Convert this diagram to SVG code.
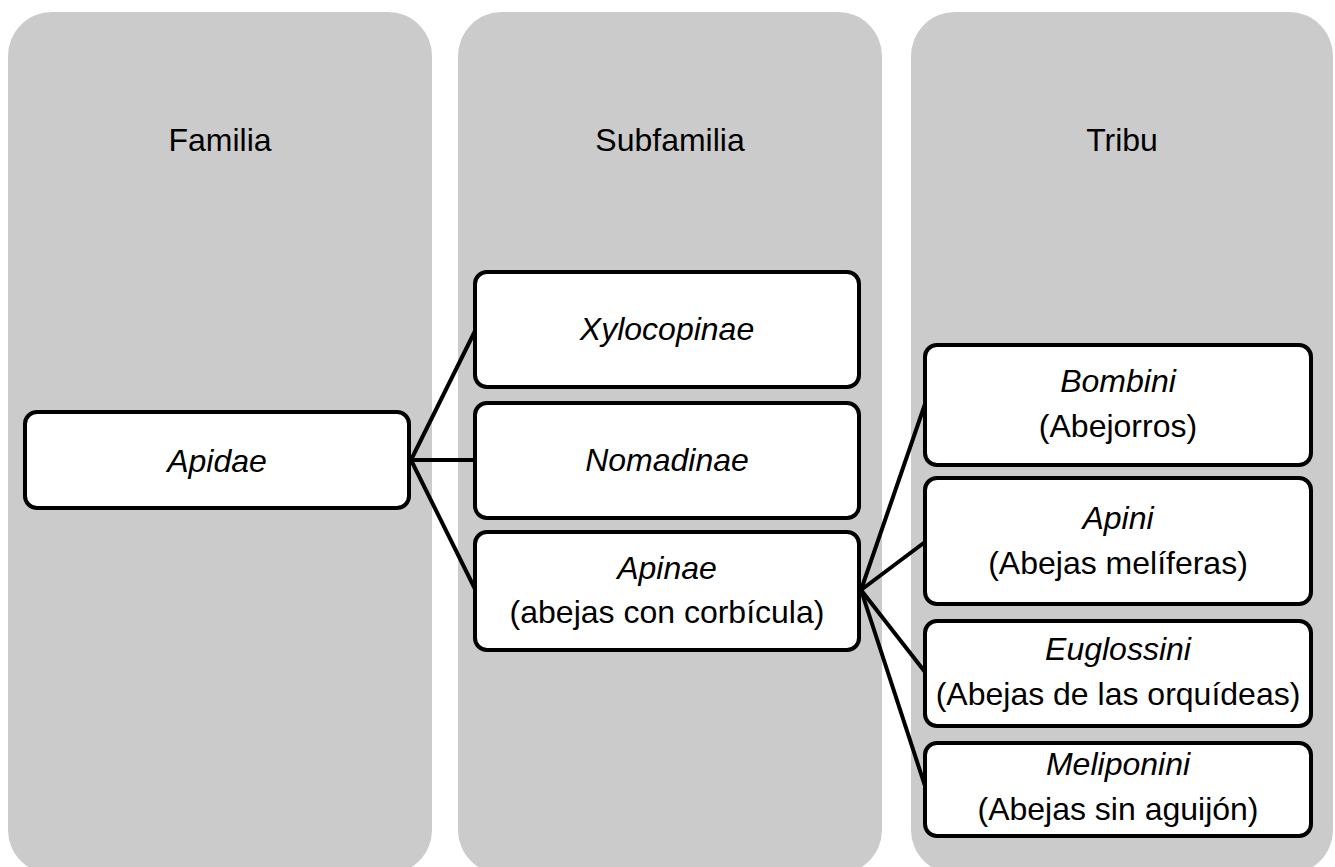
<svg xmlns="http://www.w3.org/2000/svg" width="1335" height="867" viewBox="0 0 1335 867">
<style>
.col{fill:#cbcbcb;stroke:none}
.box{fill:#fff;stroke:#000;stroke-width:4}
.t{font-family:"Liberation Sans",Arial,sans-serif;font-size:32px;fill:#000;text-anchor:middle}
.i{font-style:italic}
.c{stroke:#000;stroke-width:4;fill:none;stroke-linecap:round}
</style>
<rect width="1335" height="867" fill="#fff"/>
<g id="columns">
<g id="col-familia"><rect class="col" x="8" y="12" width="424" height="862" rx="44"/><text class="t" x="220" y="151">Familia</text></g>
<g id="col-subfamilia"><rect class="col" x="458" y="12" width="424" height="862" rx="44"/><text class="t" x="670" y="151">Subfamilia</text></g>
<g id="col-tribu"><rect class="col" x="911" y="12" width="422" height="862" rx="44"/><text class="t" x="1122" y="151">Tribu</text></g>
</g>
<g id="connectors">
<line class="c" x1="411" y1="460" x2="475" y2="331"/>
<line class="c" x1="411" y1="460" x2="475" y2="460"/>
<line class="c" x1="411" y1="460" x2="475" y2="589"/>
<line class="c" x1="861" y1="590" x2="925" y2="404"/>
<line class="c" x1="861" y1="590" x2="925" y2="542"/>
<line class="c" x1="861" y1="590" x2="925" y2="672"/>
<line class="c" x1="861" y1="590" x2="925" y2="786"/>
</g>
<g id="apidae"><rect class="box" x="25" y="412" width="384" height="96" rx="12"/><text class="t i" x="217" y="472">Apidae</text></g>
<g id="xylocopinae"><rect class="box" x="475" y="272" width="384" height="115" rx="12"/><text class="t i" x="667" y="340">Xylocopinae</text></g>
<g id="nomadinae"><rect class="box" x="475" y="403" width="384" height="115" rx="12"/><text class="t i" x="667" y="471">Nomadinae</text></g>
<g id="apinae"><rect class="box" x="475" y="532" width="384" height="118" rx="12"/><text class="t" x="667" y="579"><tspan class="i">Apinae</tspan><tspan x="667" dy="44">(abejas con corbícula)</tspan></text></g>
<g id="bombini"><rect class="box" x="925" y="345" width="386" height="120" rx="12"/><text class="t" x="1118" y="392"><tspan class="i">Bombini</tspan><tspan x="1118" dy="45">(Abejorros)</tspan></text></g>
<g id="apini"><rect class="box" x="925" y="478" width="386" height="126" rx="12"/><text class="t" x="1118" y="529"><tspan class="i">Apini</tspan><tspan x="1118" dy="45">(Abejas melíferas)</tspan></text></g>
<g id="euglossini"><rect class="box" x="925" y="621" width="386" height="105" rx="12"/><text class="t" x="1118" y="660"><tspan class="i">Euglossini</tspan><tspan x="1118" dy="45">(Abejas de las orquídeas)</tspan></text></g>
<g id="meliponini"><rect class="box" x="925" y="743" width="386" height="93" rx="12"/><text class="t" x="1118" y="775"><tspan class="i">Meliponini</tspan><tspan x="1118" dy="45">(Abejas sin aguijón)</tspan></text></g>
</svg>
